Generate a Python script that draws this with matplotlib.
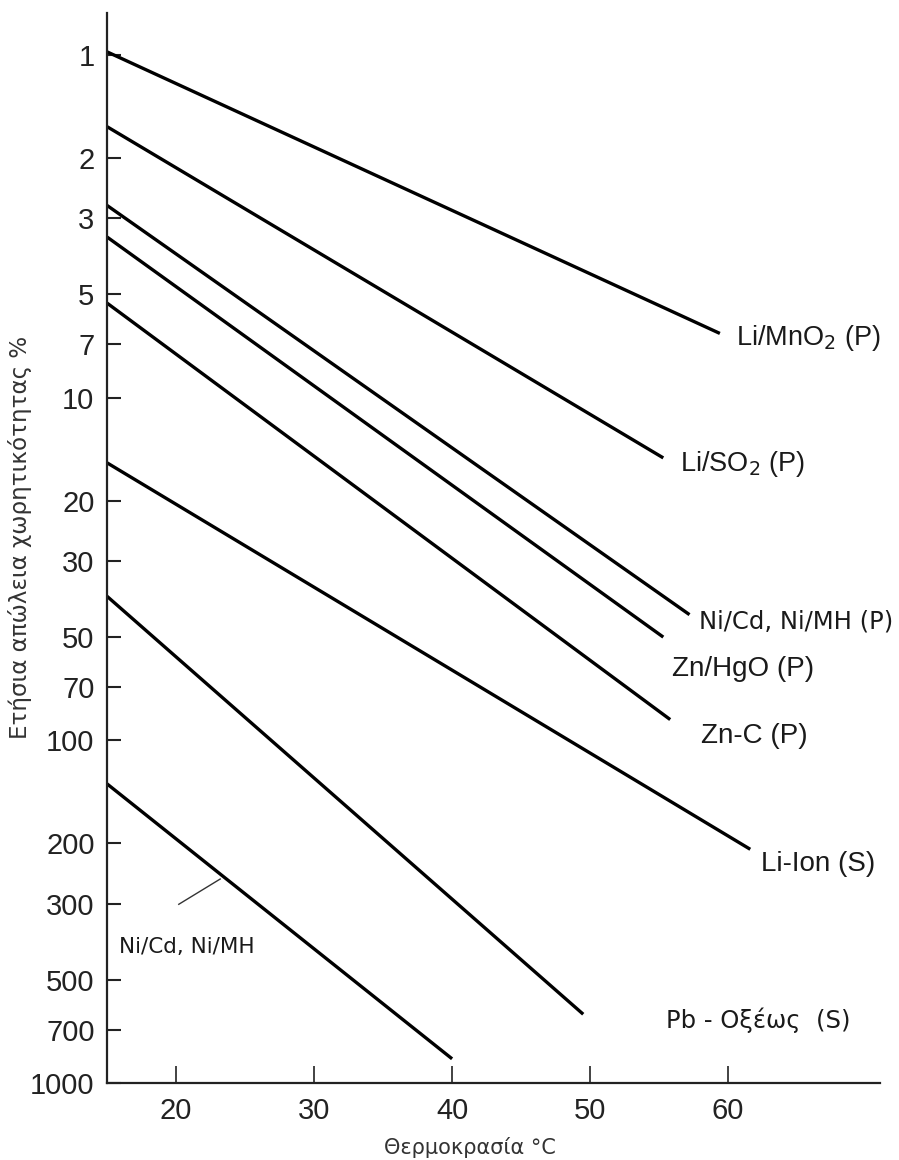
import numpy as np
import matplotlib
matplotlib.use("Agg")
import matplotlib.pyplot as plt

# battery types, start and end points of each line (temperature C, annual loss %)
names = ["Li/MnO$_2$ (P)", "Li/SO$_2$ (P)", "Ni/Cd, Ni/MH (P)", "Zn/HgO (P)",
         "Zn-C (P)", "Li-Ion (S)", "Pb - Οξέως  (S)", "Ni/Cd, Ni/MH"]
t_start = [15, 15, 15, 15, 15, 15, 15, 15]
t_end = [59.4, 55.3, 57.2, 55.3, 55.8, 61.6, 49.5, 40.0]
loss_start = [0.98, 1.62, 2.75, 3.4, 5.3, 15.5, 38, 134]
loss_end = [6.5, 15, 43, 50, 87, 208, 630, 850]

# where each name is written
label_t = [60.6, 56.5, 57.9, 55.9, 58.0, 62.4, 55.5, 15.9]
label_loss = [6.7, 15.6, 45, 62, 97, 230, 655, 400]
label_font = ["Liberation Sans"] * 2 + ["DejaVu Sans"] + ["Liberation Sans"] * 3 + ["DejaVu Sans"] * 2
label_size = [19.5, 19.5, 17.5, 20, 20, 20, 17.5, 15.5]

yticks = [1, 2, 3, 5, 7, 10, 20, 30, 50, 70, 100, 200, 300, 500, 700, 1000]
xticks = [20, 30, 40, 50, 60]

fig = plt.figure(figsize=(8.99, 11.6), dpi=100)
ax = fig.add_axes([107 / 899, 77 / 1160, 773 / 899, 1070 / 1160])

for i in range(len(names)):
    ax.plot([t_start[i], t_end[i]], [loss_start[i], loss_end[i]],
            color="black", lw=2.4, solid_capstyle="butt")
    ax.text(label_t[i], label_loss[i], names[i], fontsize=label_size[i],
            family=[label_font[i], "DejaVu Sans"], color="#1a1a1a",
            ha="left", va="center")

# leader line to the lower Ni/Cd line
ax.plot([20.2, 23.2], [301, 254], color="#333333", lw=1.0)

ax.set_yscale("log")
ax.set_ylim(1000, 0.755)
ax.set_xlim(15, 71)
ax.set_yticks(yticks)
ax.set_yticklabels([str(v) for v in yticks])
ax.minorticks_off()
ax.set_xticks(xticks)
ax.set_xticklabels([str(v) for v in xticks])

for s in ["top", "right"]:
    ax.spines[s].set_visible(False)
for s in ["left", "bottom"]:
    ax.spines[s].set_linewidth(1.6)
    ax.spines[s].set_color("#222222")

ax.tick_params(axis="y", direction="in", length=10, width=1.5, pad=9,
               labelsize=21, colors="#222222")
ax.tick_params(axis="x", direction="in", length=12, width=1.2, pad=10,
               labelsize=21, colors="#222222")
for lab in ax.get_xticklabels() + ax.get_yticklabels():
    lab.set_family("Liberation Sans")

ax.set_ylabel("Ετήσια απώλεια χωρητικότητας %", fontsize=16.6,
              family="DejaVu Sans", color="#333333")
ax.yaxis.set_label_coords(-0.097, 0.51)
ax.set_xlabel("Θερμοκρασία °C", fontsize=15, family="DejaVu Sans",
              color="#333333")
ax.xaxis.set_label_coords(0.47, -0.05)

fig.savefig("out.png", dpi=100)
